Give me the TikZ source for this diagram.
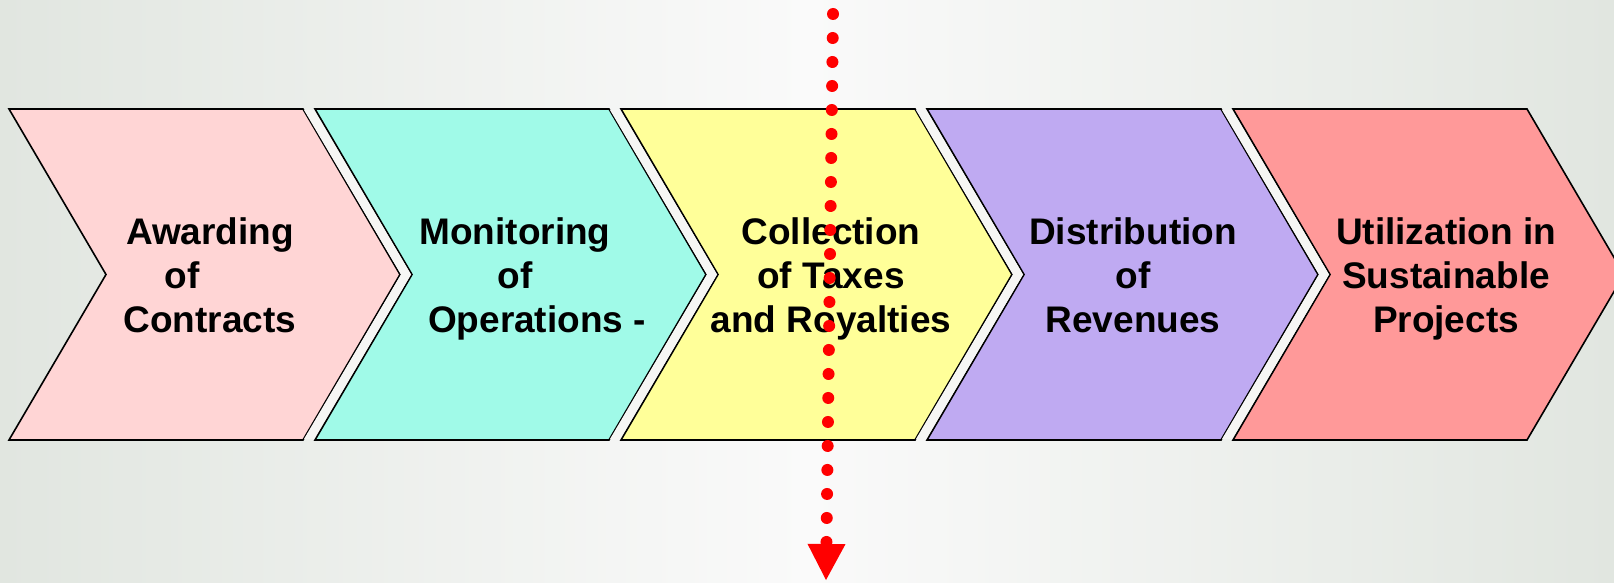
\documentclass[tikz,border=0pt]{standalone}
\usepackage{fontspec}
\setmainfont{Liberation Sans}
\usetikzlibrary{arrows.meta}
\definecolor{awardpink}{HTML}{FFD5D5}
\definecolor{monitorteal}{HTML}{A0FAE8}
\definecolor{collectyellow}{HTML}{FFFF99}
\definecolor{distpurple}{HTML}{BFAAF2}
\definecolor{utilred}{HTML}{FF9999}
\definecolor{bgside}{HTML}{E1E6E0}
\definecolor{bgmid}{HTML}{FAFAFA}
\definecolor{gapwhite}{HTML}{F6F6F4}
\definecolor{cutred}{HTML}{FF0000}
\begin{document}
\begin{tikzpicture}
[x=1pt, y=1pt,
 chevron/.style={draw=black, line width=1.6pt, line join=miter},
 gapband/.style={fill=gapwhite},
 stage/.style={align=center, font=\bfseries\fontsize{37}{44}\selectfont, inner sep=0pt,
   text height=27pt, text depth=8pt},
 cutline/.style={cutred, line width=12pt, line cap=round, dash pattern=on 0pt off 24pt,
   -{Triangle[width=38pt,length=36pt,line width=0pt]}}]
\useasboundingbox (0,0) rectangle (1614,582);
\shade[left color=bgside, right color=bgside, middle color=bgmid] (0,0) rectangle (1614,582);

% chevrons, left to right
\foreach \x/\col in {9/awardpink, 315/monitorteal, 621/collectyellow, 927/distpurple, 1233/utilred}
  \draw[chevron, fill=\col] (\x,473) -- (\x+294,473) -- (\x+391,307.5) -- (\x+294,142)
    -- (\x,142) -- (\x+97,307.5) -- cycle;
\foreach \x in {9, 315, 621, 927}
  \path[gapband] (\x+295,472) -- (\x+305,472) -- (\x+402,307.5) -- (\x+305,143)
    -- (\x+295,143) -- (\x+392,307.5) -- cycle;

\node[stage] (Awarding) at (210,259.5) {Awarding\\of\hbox to 56pt{}\\Contracts};
\node[stage] (Monitoring) at (515,259.5) {Monitoring\\of\\\hspace*{44pt}Operations -};
\node[stage] (Collection) at (831,259.5) {Collection\\of Taxes\\and Royalties};
\node[stage] (Distribution) at (1133,259.5) {Distribution\\of\\Revenues};
\node[stage] (Utilization) at (1446,259.5) {Utilization in\\Sustainable\\Projects};

\coordinate (cut top) at (833,568);
\coordinate (cut bottom) at (826,2);
\draw[cutline] (cut top) -- (cut bottom);
\end{tikzpicture}
\end{document}
